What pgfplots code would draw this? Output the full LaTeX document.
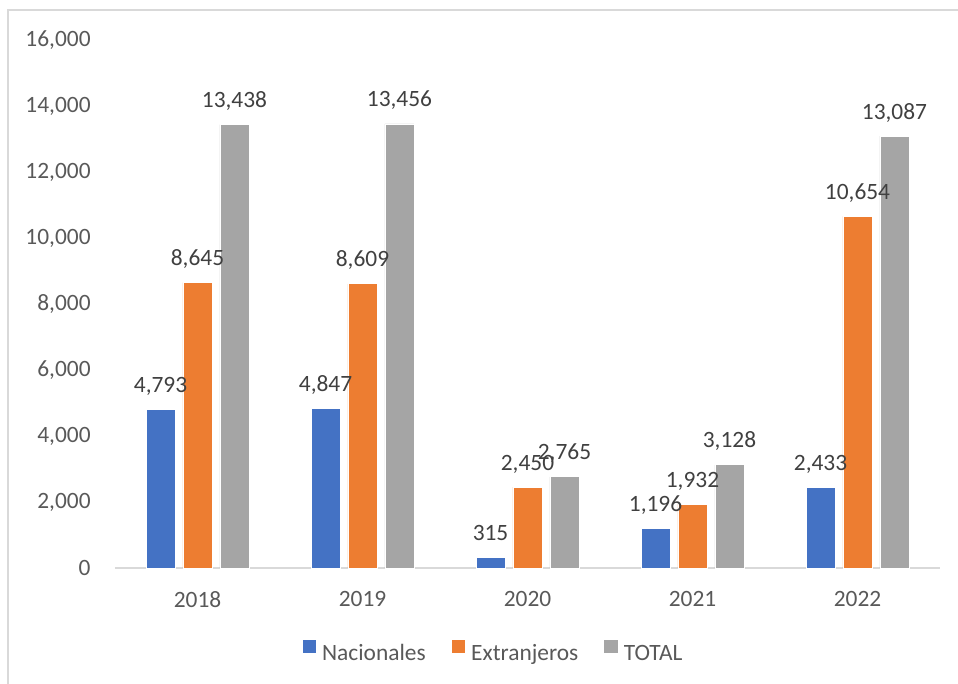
\documentclass[border=0pt]{standalone}
\usepackage{pgfplots}
\pgfplotsset{compat=1.18}
\usepackage{fontspec}
\setmainfont{Carlito}

\definecolor{cBlue}{HTML}{4472C4}
\definecolor{cOrange}{HTML}{ED7D31}
\definecolor{cGray}{HTML}{A5A5A5}
\definecolor{tickText}{HTML}{595959}
\definecolor{labText}{HTML}{404040}
\definecolor{lineGray}{HTML}{D9D9D9}

\begin{document}
\begin{tikzpicture}
\begin{axis}[
    scale only axis,
    width=412.5pt, height=264pt,
    xmin=-0.5, xmax=4.5,
    ymin=0, ymax=16000,
    xtick={0,1,2,3,4},
    xticklabels={2018,2019,2020,2021,2022},
    ytick={0,2000,...,16000},
    major tick length=0pt,
    axis x line*=bottom,
    axis y line*=left,
    x axis line style={draw=lineGray, line width=1pt, -},
    y axis line style={draw=none},
    /pgf/number format/assume math mode=true,
    /pgf/number format/1000 sep={,},
    ticklabel style={font=\fontsize{11.7}{14}\selectfont, text=tickText},
    yticklabel style={anchor=east, inner sep=0pt, xshift=-12pt},
    xticklabel style={anchor=north, inner sep=0pt, yshift=-11.5pt},
    scaled y ticks=false,
    ybar,
    bar width=0.176,
    every axis plot/.append style={draw=white, line width=0.4pt},
    nodes near coords,
    every node near coord/.append style={font=\fontsize{11.7}{14}\selectfont, text=labText, anchor=base, inner sep=0pt, yshift=8.5pt},
    clip=false,
    legend columns=3,
    legend style={at={(0.4576,-0.159)}, anchor=center, draw=none, fill=none,
        font=\fontsize{11.7}{14}\selectfont, text=tickText,
        nodes={inner sep=0pt},
        column sep=3pt,
        /tikz/every even column/.append style={column sep=13pt}},
    legend image code/.code={\fill[#1, draw=none] (0pt,0.4pt) rectangle (6.75pt,7.15pt);},
]
\addplot[fill=cBlue, bar shift=-0.224] coordinates {(0,4793) (1,4847) (2,315) (3,1196) (4,2433)};
\addplot[fill=cOrange, bar shift=0] coordinates {(0,8645) (1,8609) (2,2450) (3,1932) (4,10654)};
\addplot[fill=cGray, bar shift=0.224] coordinates {(0,13438) (1,13456) (2,2765) (3,3128) (4,13087)};
\legend{Nacionales, Extranjeros, TOTAL}
\end{axis}
\draw[lineGray, line width=0.7pt]
    ([xshift=-53.5pt, yshift=-60pt]current axis.south west) --
    ([xshift=-53.5pt, yshift=279pt]current axis.south west) --
    ([xshift=425pt, yshift=279pt]current axis.south west);
\pgfresetboundingbox
\path[use as bounding box] ([xshift=-57.5pt, yshift=-58pt]current axis.south west) rectangle ([xshift=421.5pt, yshift=284pt]current axis.south west);
\end{tikzpicture}
\end{document}
